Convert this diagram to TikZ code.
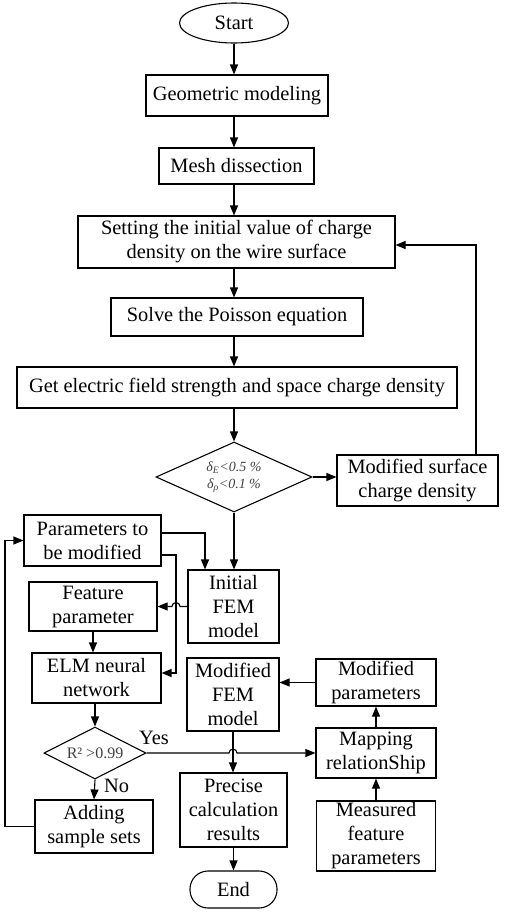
\documentclass[tikz,border=0pt]{standalone}
\usepackage{fontspec}
\setmainfont{Liberation Serif}
\usetikzlibrary{shapes.geometric,arrows.meta,positioning}

\begin{document}
\begin{tikzpicture}[x=1pt,y=-1pt,->,>={Triangle[length=10pt,width=8pt]},line width=1.1pt,
                    font=\fontsize{20.4}{24}\selectfont,
                    box/.style={draw,rectangle,align=center,inner sep=1pt},
                    dec/.style={draw,diamond,aspect=2,inner sep=0pt,align=center,text=black!75},
                    term/.style={draw,inner sep=1pt}]

  \useasboundingbox (0,0) rectangle (505,913);

  \node[term,ellipse,minimum width=109pt,minimum height=40pt] (start) at (234,23) {Start};
  \node[box,minimum width=182pt,minimum height=41pt] (geo)   at (237,95.5)  {Geometric modeling};
  \node[box,minimum width=155pt,minimum height=36pt] (mesh)  at (236.5,166) {Mesh dissection};
  \node[box,minimum width=317pt,minimum height=52pt] (setq)  at (236.5,242) {Setting the initial value of charge\\density on the wire surface};
  \node[box,minimum width=252pt,minimum height=38pt] (solve) at (237,317)   {Solve the Poisson equation};
  \node[box,minimum width=440pt,minimum height=41pt] (getE)  at (237,387.5) {Get electric field strength and space charge density};
  \node[dec,minimum width=156pt,minimum height=70pt,font=\fontsize{14}{17}\selectfont\itshape]
                                                     (conv)  at (234,477)   {δ\textsubscript{E}<0.5 \%\\δ\textsubscript{ρ}<0.1 \%};
  \node[box,minimum width=161pt,minimum height=51pt] (msc)   at (417.5,480.5) {Modified surface\\charge density};

  \node[box,minimum width=137pt,minimum height=51pt] (par)   at (92.5,540.5) {Parameters to\\be modified};
  \node[box,minimum width=91pt,minimum height=73pt]  (ifem)  at (233.5,606.5) {Initial\\FEM\\model};
  \node[box,minimum width=128pt,minimum height=49pt] (feat)  at (93,606.5)  {Feature\\parameter};
  \node[box,minimum width=129pt,minimum height=50pt] (elm)   at (96.5,678)  {ELM neural\\network};
  \node[box,minimum width=92pt,minimum height=73pt]  (mfem)  at (233,694.5) {Modified\\FEM\\model};
  \node[box,minimum width=120pt,minimum height=47pt] (mpar)  at (376,682.5) {Modified\\parameters};
  \node[box,minimum width=120pt,minimum height=50pt] (map)   at (376,753)   {Mapping\\relationShip};
  \node[dec,minimum width=102pt,minimum height=52pt,font=\fontsize{16}{19}\selectfont]
                                                     (fit)   at (95,753)    {R² >0.99};
  \node[box,minimum width=118pt,minimum height=53pt] (add)   at (94,826.5)  {Adding\\sample sets};
  \node[box,minimum width=107pt,minimum height=74pt] (prec)  at (233.5,810) {Precise\\calculation\\results};
  \node[box,minimum width=119pt,minimum height=70pt] (meas)  at (376,836)   {Measured\\feature\\parameters};
  \node[term,rounded corners=18pt,minimum width=87pt,minimum height=37pt] (fin) at (233.5,889.5) {End};

  \node (yes) at (154,738) {Yes};
  \node (no)  at (116.5,786) {No};

  \coordinate (jog) at (176,673);
  \coordinate (lp)  at (5,826.5);

  % main line
  \path (start)              edge (geo.north -| start)
        (geo.south -| start) edge (mesh.north -| start)
        (mesh.south -| start) edge (setq.north -| start)
        (setq.south -| start) edge (solve.north -| start)
        (solve.south -| start) edge (getE.north -| start)
        (getE.south -| start) edge (conv)
        (conv.east)          edge (conv.east -| msc.west)
        (conv.south)         edge (conv.south |- ifem.north);
  \draw ([xshift=58.5pt]msc.north) |- ([yshift=-3pt]setq.east);

  % left part
  \draw ([yshift=7.5pt]par.east) -| ([xshift=-28.5pt]ifem.north);
  \draw ([yshift=-14.5pt]par.east) -| (jog) -- (jog -| elm.east);
  \draw (ifem.west) -- ([xshift=4pt]jog |- ifem.west)
        arc[start angle=0,end angle=180,radius=4pt] -- (feat.east);
  \draw (feat.south) -- (feat.south |- elm.north);
  \draw (elm.south -| fit) -- (fit.north);
  \draw (fit.south) -- (add.north);
  \draw (add.west) -- (lp) |- (par.west);

  % right part
  \draw (fit.east) -- ([xshift=-4pt]mfem.south |- fit.east)
        arc[start angle=180,end angle=0,radius=4pt] -- (map.west);
  \draw (mfem.south) -- (mfem.south |- prec.north);
  \draw (prec) -- (fin);
  \draw (mpar.west) -- (mpar.west -| mfem.east);
  \draw (map) -- (mpar);
  \draw (meas) -- (map);
\end{tikzpicture}
\end{document}
